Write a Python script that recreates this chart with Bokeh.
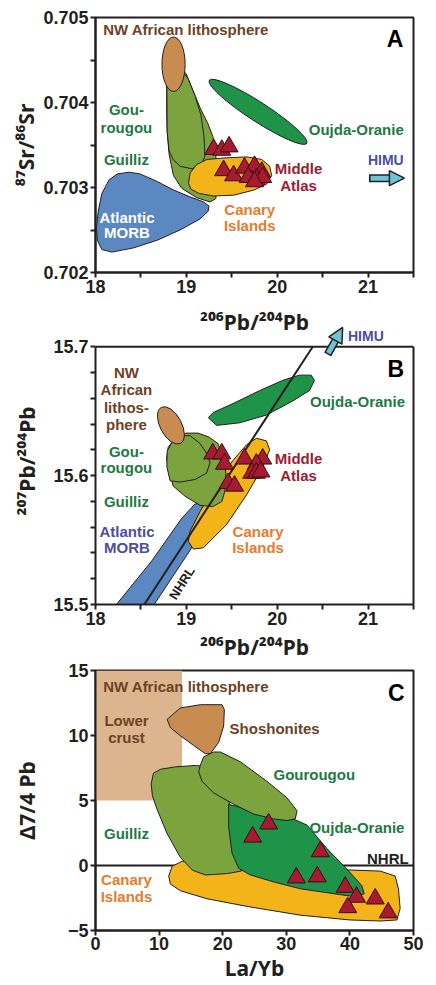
from bokeh.plotting import figure
from bokeh.layouts import column
from bokeh.models import Range1d, FixedTicker, Arrow, NormalHead, LinearAxis
from bokeh.core.properties import value
from bokeh.embed import file_html
from bokeh.resources import INLINE

# ---------------- data: panel A (87Sr/86Sr vs 206Pb/204Pb) ----------------
A_MORB_X = [18.02, 18.07, 18.18, 18.42, 18.68, 18.93, 19.15, 19.24, 19.25, 19.19, 19.04, 18.86, 18.68, 18.49, 18.37, 18.24, 18.15, 18.07, 18.03, 18.01]
A_MORB_Y = [0.70238, 0.70227, 0.70224, 0.70229, 0.70238, 0.70250, 0.70263, 0.70272, 0.70278, 0.70283, 0.70289, 0.70297, 0.70307, 0.70316, 0.70318, 0.70316, 0.70309, 0.70293, 0.70272, 0.70253]
A_GUILLIZ_X = [18.785, 18.783, 18.789, 18.810, 18.858, 18.950, 19.114, 19.260, 19.325, 19.336, 19.325, 19.292, 19.238, 19.150, 19.073, 18.997, 18.909, 18.800]
A_GUILLIZ_Y = [0.70428, 0.70394, 0.70366, 0.70339, 0.70314, 0.70299, 0.70288, 0.70283, 0.70287, 0.70309, 0.70337, 0.70360, 0.70375, 0.70394, 0.70414, 0.70434, 0.70442, 0.70440]
A_GOUROUGOU_X = [18.785, 18.789, 18.810, 18.854, 18.931, 19.062, 19.172, 19.205, 19.194, 19.161, 19.095, 19.019, 18.931, 18.821]
A_GOUROUGOU_Y = [0.70423, 0.70366, 0.70343, 0.70333, 0.70325, 0.70322, 0.70328, 0.70337, 0.70360, 0.70385, 0.70408, 0.70428, 0.70440, 0.70438]
A_CANARY_X = [19.024, 19.041, 19.114, 19.227, 19.446, 19.665, 19.829, 19.917, 19.939, 19.884, 19.742, 19.522, 19.303, 19.139, 19.051]
A_CANARY_Y = [0.70305, 0.70317, 0.70327, 0.70333, 0.70335, 0.70336, 0.70333, 0.70325, 0.70314, 0.70304, 0.70297, 0.70291, 0.70290, 0.70293, 0.70298]
A_LITHO = dict(x=18.859, y=0.70445, w=0.255, h=0.00064, angle=0.0)
A_OUJDA = dict(x=19.789, y=0.70389, w=1.278, h=0.000228, angle=-0.574)
A_TRI_X = [19.30, 19.39, 19.47, 19.41, 19.52, 19.64, 19.75, 19.83, 19.68, 19.77, 19.84, 19.75]
A_TRI_Y = [0.70345, 0.70344, 0.70348, 0.70320, 0.70314, 0.70323, 0.70325, 0.70318, 0.70312, 0.70310, 0.70312, 0.70307]
A_HIMU = dict(x0=21.01, y0=0.70311, x1=21.40, y1=0.70311)

# ---------------- data: panel B (207Pb/204Pb vs 206Pb/204Pb) ----------------
B_MORB_X = [18.230, 18.646, 19.059, 19.205, 19.169, 19.095, 18.950, 18.621]
B_MORB_Y = [15.500, 15.500, 15.544, 15.572, 15.579, 15.578, 15.567, 15.534]
B_CANARY_X = [19.022, 19.077, 19.186, 19.442, 19.662, 19.843, 19.917, 19.881, 19.771, 19.662, 19.515, 19.333, 19.150, 19.041]
B_CANARY_Y = [15.549, 15.543, 15.544, 15.562, 15.585, 15.607, 15.620, 15.627, 15.629, 15.624, 15.612, 15.595, 15.572, 15.557]
B_OUJDA_X = [19.241, 19.333, 19.588, 19.881, 20.172, 20.355, 20.410, 20.373, 20.245, 20.062, 19.807, 19.515, 19.296]
B_OUJDA_Y = [15.645, 15.639, 15.641, 15.647, 15.658, 15.666, 15.674, 15.678, 15.678, 15.674, 15.666, 15.656, 15.649]
B_GUILLIZ_X = [18.783, 18.800, 18.876, 18.997, 19.128, 19.249, 19.347, 19.402, 19.435, 19.424, 19.391, 19.292, 19.150, 18.986, 18.854]
B_GUILLIZ_Y = [15.613, 15.622, 15.629, 15.633, 15.633, 15.630, 15.625, 15.615, 15.602, 15.588, 15.580, 15.576, 15.577, 15.584, 15.592]
B_GOUROUGOU_X = [18.821, 18.785, 18.789, 18.843, 18.931, 19.041, 19.150, 19.227, 19.260, 19.223, 19.095, 18.931]
B_GOUROUGOU_Y = [15.596, 15.607, 15.619, 15.626, 15.631, 15.631, 15.625, 15.617, 15.610, 15.602, 15.597, 15.595]
B_LITHO = dict(x=18.830, y=15.639, w=0.449, h=0.0166, angle=-1.082)
B_NHRL_X = [18.537, 20.391]
B_NHRL_Y = [15.500, 15.700]
B_TRI_X = [19.29, 19.39, 19.42, 19.64, 19.84, 19.77, 19.72, 19.77, 19.82, 19.46, 19.53]
B_TRI_Y = [15.617, 15.617, 15.609, 15.613, 15.613, 15.609, 15.602, 15.602, 15.603, 15.594, 15.592]
B_HIMU = dict(x0=20.555, y0=15.694, x1=20.720, y1=15.715)

# ---------------- data: panel C (Delta7/4 Pb vs La/Yb) ----------------
C_CRUST = dict(left=0.0, right=13.6, bottom=5.0, top=15.0)
C_SHOSH_X = [11.26, 13.35, 16.49, 19.90, 20.26, 20.15, 19.37, 18.06, 17.28, 15.44, 13.35, 11.78]
C_SHOSH_Y = [11.24, 12.12, 12.37, 12.37, 11.99, 10.73, 9.48, 8.60, 8.60, 9.23, 9.98, 10.61]
C_GUILLIZ_X = [8.75, 9.11, 10.21, 12.56, 15.86, 18.53, 20.89, 21.99, 22.93, 20.73, 17.28, 15.23, 13.35, 11.26, 9.69, 8.95]
C_GUILLIZ_Y = [6.27, 7.10, 7.40, 7.59, 7.70, 7.47, 5.21, 2.20, -0.43, -0.62, -0.73, -0.36, 0.62, 2.45, 4.31, 5.37]
C_GOUROUGOU_X = [16.49, 17.01, 18.58, 19.63, 22.77, 26.97, 30.11, 31.68, 31.41, 30.11, 28.00, 24.86, 21.72, 18.58, 16.76, 16.22]
C_GOUROUGOU_Y = [7.72, 8.35, 8.73, 8.73, 7.98, 6.47, 5.21, 4.21, 3.58, 3.46, 3.58, 3.96, 4.71, 5.59, 6.47, 7.22]
C_OUJDA_X = [20.94, 23.83, 28.00, 31.41, 33.25, 36.39, 39.53, 41.89, 42.25, 40.57, 36.39, 32.20, 28.00, 24.35, 22.51, 21.47, 20.94]
C_OUJDA_Y = [4.71, 4.33, 3.71, 3.51, 3.11, 1.30, -0.28, -1.56, -2.18, -2.39, -2.09, -1.79, -1.26, -0.73, -0.21, 0.95, 2.96]
C_CANARY_X = [11.51, 12.05, 13.62, 17.54, 22.77, 29.57, 37.43, 44.76, 47.12, 47.64, 47.90, 47.39, 44.76, 40.05, 32.20, 24.34, 17.54, 13.35, 11.78]
C_CANARY_Y = [-0.81, -0.06, 0.32, 0.19, -0.06, -0.18, -0.30, -0.43, -0.81, -1.81, -3.31, -4.19, -4.27, -4.19, -3.82, -3.19, -2.56, -1.94, -1.43]
C_NHRL_X = [0.0, 50.0]
C_NHRL_Y = [0.0, 0.0]
C_TRI_X = [24.71, 27.22, 35.34, 31.57, 34.87, 39.26, 41.04, 39.66, 43.98, 46.02]
C_TRI_Y = [2.20, 3.21, 1.07, -0.94, -0.86, -1.66, -2.43, -3.23, -2.56, -3.63]

# ---------------- ticks ----------------
PB206_TICKS = [18, 19, 20, 21]
PB206_MINOR = [18.5, 19.5, 20.5, 21.5]
SR_TICKS = [0.702, 0.703, 0.704, 0.705]
SR_MINOR = [0.7025, 0.7035, 0.7045]
PB207_TICKS = [15.5, 15.6, 15.7]
PB207_MINOR = [15.52, 15.54, 15.56, 15.58, 15.62, 15.64, 15.66, 15.68]
LAYB_TICKS = [0, 10, 20, 30, 40, 50]
D74_TICKS = [-5, 0, 5, 10, 15]

# ---------------- styles ----------------
FONT = "Liberation Sans"
LABEL_FONT = "Noto Sans"
INK = "#231f20"
TAN = "#c98c50"
CRUST = "#dcb58e"
LGREEN = "#7ba33e"
DGREEN = "#1f9449"
YELLOW = "#f3b419"
BLUE = "#5b88c1"
TRI = "#a61b31"
HIMU_FILL = "#6cc4d4"
T_BROWN = "#6d4225"
T_GREEN = "#1c7a42"
T_SLATE = "#4e4ea0"
T_MAROON = "#9d1b31"
T_ORANGE = "#ea7a2e"


def style_axis(ax):
    ax.axis_line_color = INK
    ax.axis_line_width = 2
    ax.major_tick_line_color = INK
    ax.major_tick_line_width = 2
    ax.minor_tick_line_color = INK
    ax.minor_tick_line_width = 2
    ax.major_tick_in = 0
    ax.major_tick_out = 5
    ax.minor_tick_in = 0
    ax.minor_tick_out = 5
    ax.major_label_text_font = FONT
    ax.major_label_text_font_style = "bold"
    ax.major_label_text_font_size = "18px"
    ax.major_label_text_color = INK
    ax.major_label_standoff = 2
    ax.axis_label_text_font = LABEL_FONT
    ax.axis_label_text_font_style = "bold"
    ax.axis_label_text_font_size = "21px"
    ax.axis_label_text_color = INK


def make_fig(height, xr, yr, top, bottom):
    p = figure(width=436, height=height, x_range=Range1d(*xr), y_range=Range1d(*yr),
               output_backend="svg", toolbar_location=None,
               min_border_left=95, min_border_right=23,
               min_border_top=top, min_border_bottom=bottom)
    p.grid.visible = False
    p.outline_line_color = INK
    p.outline_line_width = 2
    p.outline_line_alpha = 1
    p.background_fill_color = "white"
    p.border_fill_color = None
    style_axis(p.xaxis[0])
    style_axis(p.yaxis[0])
    return p


def shape(p, xs, ys, color):
    p.patch(xs, ys, fill_color=color, line_color=INK, line_width=1)


def oval(p, e, color):
    p.ellipse(x=[e["x"]], y=[e["y"]], width=[e["w"]], height=[e["h"]], angle=[e["angle"]],
              fill_color=color, line_color=INK, line_width=1)


def tri(p, xs, ys):
    p.scatter(xs, ys, marker="triangle", size=18, fill_color=TRI, line_color="#3a0c12", line_width=1)


def txt(p, t, x, y, color, size="15px", align="center", angle=0.0):
    p.text(x=[x], y=[y], text=[t], text_font=value(FONT), text_font_style="bold",
           text_font_size=size, text_color=color, text_align=align, text_baseline="middle",
           angle=angle)


def block_arrow(p, a):
    x0, y0, x1, y1 = a["x0"], a["y0"], a["x1"], a["y1"]
    fs = 0.6
    xs, ys = x0 + fs * (x1 - x0), y0 + fs * (y1 - y0)
    fi = 0.045
    xi, yi = x0 + fi * (x1 - x0), y0 + fi * (y1 - y0)
    fe = 0.68
    xe, ye = x0 + fe * (x1 - x0), y0 + fe * (y1 - y0)
    p.add_layout(Arrow(end=None, x_start=x0, y_start=y0, x_end=xe, y_end=ye,
                       line_width=8, line_color=INK))
    p.add_layout(Arrow(end=None, x_start=xi, y_start=yi, x_end=xe, y_end=ye,
                       line_width=5, line_color=HIMU_FILL))
    p.add_layout(Arrow(end=NormalHead(size=15, fill_color=HIMU_FILL, line_color=INK, line_width=1.5),
                       x_start=xs, y_start=ys, x_end=x1, y_end=y1, line_alpha=0))


# ================= Panel A =================
pA = make_fig(338, (18, 21.5), (0.702, 0.705), 17, 60)
pA.xaxis.ticker = FixedTicker(ticks=PB206_TICKS, minor_ticks=PB206_MINOR)
pA.yaxis.ticker = FixedTicker(ticks=SR_TICKS, minor_ticks=SR_MINOR)
pA.xaxis.axis_label = "²⁰⁶Pb/²⁰⁴Pb"
pA.yaxis.axis_label = "⁸⁷Sr/⁸⁶Sr"
pA.xaxis.axis_label_standoff = 12
pA.yaxis.axis_label_standoff = 0

shape(pA, A_MORB_X, A_MORB_Y, BLUE)
shape(pA, A_GUILLIZ_X, A_GUILLIZ_Y, LGREEN)
shape(pA, A_GOUROUGOU_X, A_GOUROUGOU_Y, LGREEN)
oval(pA, A_LITHO, TAN)
oval(pA, A_OUJDA, DGREEN)
shape(pA, A_CANARY_X, A_CANARY_Y, YELLOW)
tri(pA, A_TRI_X, A_TRI_Y)
block_arrow(pA, A_HIMU)

txt(pA, "NW African lithosphere", 18.084, 0.70486, T_BROWN, align="left")
txt(pA, "Gou-", 18.34, 0.70392, T_GREEN)
txt(pA, "rougou", 18.34, 0.70371, T_GREEN)
txt(pA, "Guilliz", 18.34, 0.70333, T_GREEN)
txt(pA, "Atlantic", 18.347, 0.70265, "white")
txt(pA, "MORB", 18.347, 0.70247, "white")
txt(pA, "Oujda-Oranie", 20.87, 0.70368, T_GREEN)
txt(pA, "HIMU", 21.195, 0.70332, T_SLATE, size="14px")
txt(pA, "Middle", 20.234, 0.70322, T_MAROON)
txt(pA, "Atlas", 20.234, 0.70302, T_MAROON)
txt(pA, "Canary", 19.698, 0.70274, T_ORANGE)
txt(pA, "Islands", 19.698, 0.70255, T_ORANGE)
txt(pA, "A", 21.297, 0.70475, "black", size="23px")

# ================= Panel B =================
# The frame is extended 30 px above 15.7 so the HIMU arrow can leave the box;
# the box itself is closed at 15.7 by a line and a bare right-hand axis.
B_TOP_PAD_PX = 30
B_FRAME_PX = 264
B_Y_END = 15.7 + B_TOP_PAD_PX * (15.7 - 15.5) / B_FRAME_PX
pB = make_fig(348, (18, 21.5), (15.5, B_Y_END), 2, 52)
pB.margin = (-23, 0, 0, 0)
pB.outline_line_color = None
pB.background_fill_color = None
pB.xaxis.ticker = FixedTicker(ticks=PB206_TICKS, minor_ticks=PB206_MINOR)
pB.yaxis.ticker = FixedTicker(ticks=PB207_TICKS, minor_ticks=PB207_MINOR)
pB.yaxis.bounds = (15.5, 15.7)
pB.xaxis.axis_label = "²⁰⁶Pb/²⁰⁴Pb"
pB.yaxis.axis_label = "²⁰⁷Pb/²⁰⁴Pb"
pB.xaxis.axis_label_standoff = 5
pB.yaxis.axis_label_standoff = 9
right_ax = LinearAxis(bounds=(15.5, 15.7), ticker=FixedTicker(ticks=[]),
                      axis_line_color=INK, axis_line_width=2,
                      major_tick_line_color=None, minor_tick_line_color=None,
                      major_label_text_font_size="0px")
pB.add_layout(right_ax, "right")

shape(pB, B_MORB_X, B_MORB_Y, BLUE)
shape(pB, B_CANARY_X, B_CANARY_Y, YELLOW)
shape(pB, B_GUILLIZ_X, B_GUILLIZ_Y, LGREEN)
shape(pB, B_GOUROUGOU_X, B_GOUROUGOU_Y, LGREEN)
oval(pB, B_LITHO, TAN)
shape(pB, B_OUJDA_X, B_OUJDA_Y, DGREEN)
pB.line(B_NHRL_X, B_NHRL_Y, line_color=INK, line_width=2)
pB.line([18, 21.5], [15.7, 15.7], line_color=INK, line_width=2)
tri(pB, B_TRI_X, B_TRI_Y)
block_arrow(pB, B_HIMU)

for t, yy in (("NW", 15.680), ("African", 15.667), ("lithos-", 15.653), ("phere", 15.640)):
    txt(pB, t, 18.34, yy, T_BROWN)
txt(pB, "Gou-", 18.34, 15.619, T_GREEN)
txt(pB, "rougou", 18.34, 15.606, T_GREEN)
txt(pB, "Guilliz", 18.34, 15.580, T_GREEN)
txt(pB, "Atlantic", 18.347, 15.557, T_SLATE)
txt(pB, "MORB", 18.347, 15.544, T_SLATE)
txt(pB, "Oujda-Oranie", 20.884, 15.6575, T_GREEN)
txt(pB, "Middle", 20.234, 15.613, T_MAROON)
txt(pB, "Atlas", 20.234, 15.600, T_MAROON)
txt(pB, "Canary", 19.789, 15.557, T_ORANGE)
txt(pB, "Islands", 19.789, 15.544, T_ORANGE)
txt(pB, "NHRL", 18.95, 15.5166, INK, size="13px", angle=1.002)
txt(pB, "B", 21.304, 15.683, "black", size="23px")
txt(pB, "HIMU", 20.976, 15.7083, T_SLATE, size="14px")

# ================= Panel C =================
pC = make_fig(329, (0, 50), (-5, 15), 15, 52)
pC.margin = (-8, 0, 0, 0)
pC.xaxis.ticker = FixedTicker(ticks=LAYB_TICKS)
pC.yaxis.ticker = FixedTicker(ticks=D74_TICKS)
pC.yaxis.major_label_overrides = {-5: "−5"}
pC.xaxis.axis_label = "La/Yb"
pC.yaxis.axis_label = "Δ7/4 Pb"
pC.xaxis.axis_label_standoff = 1
pC.xaxis.major_label_standoff = 1
pC.yaxis.axis_label_standoff = 24

pC.quad(left=[C_CRUST["left"]], right=[C_CRUST["right"]], bottom=[C_CRUST["bottom"]],
        top=[C_CRUST["top"]], fill_color=CRUST, line_color=None)
pC.line(C_NHRL_X, C_NHRL_Y, line_color=INK, line_width=2)
shape(pC, C_CANARY_X, C_CANARY_Y, YELLOW)
shape(pC, C_GUILLIZ_X, C_GUILLIZ_Y, LGREEN)
shape(pC, C_OUJDA_X, C_OUJDA_Y, DGREEN)
shape(pC, C_SHOSH_X, C_SHOSH_Y, TAN)
shape(pC, C_GOUROUGOU_X, C_GOUROUGOU_Y, LGREEN)
tri(pC, C_TRI_X, C_TRI_Y)

txt(pC, "NW African lithosphere", 1.21, 13.74, T_BROWN, align="left")
txt(pC, "Lower", 4.87, 11.18, T_BROWN)
txt(pC, "crust", 4.87, 9.81, T_BROWN)
txt(pC, "Shoshonites", 28.16, 10.54, T_BROWN)
txt(pC, "Gourougou", 34.40, 7.02, T_GREEN)
txt(pC, "Guilliz", 4.87, 2.45, T_GREEN)
txt(pC, "Oujda-Oranie", 41.10, 2.90, T_GREEN)
txt(pC, "NHRL", 45.97, 0.57, INK)
txt(pC, "Canary", 4.87, -1.06, T_ORANGE)
txt(pC, "Islands", 4.87, -2.37, T_ORANGE)
txt(pC, "C", 47.28, 13.29, "black", size="23px")

layout = column(pA, pB, pC, spacing=0)
open("out.html", "w").write(file_html(layout, INLINE))
